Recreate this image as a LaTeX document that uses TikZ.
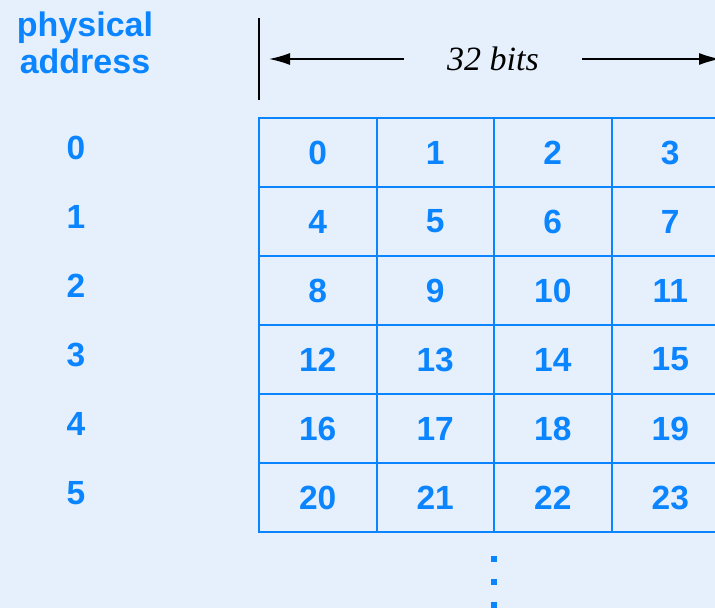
\documentclass[tikz,border=0pt]{standalone}
\usepackage{fontspec}
\setmainfont{Liberation Sans}
\newfontfamily\bitsfont{Liberation Serif}
\usetikzlibrary{arrows.meta, positioning}
\definecolor{paleblue}{RGB}{230, 240, 252}
\definecolor{wordblue}{RGB}{10, 132, 255}

\begin{document}
\begin{tikzpicture}[x=1pt, y=-1pt,
  wordcell/.style={draw=wordblue, line width=2pt, minimum width=117.5pt, minimum height=69pt,
    inner sep=0pt, text=wordblue, font=\fontsize{33.5}{36}\selectfont\bfseries},
  addrlabel/.style={text=wordblue, font=\fontsize{33.5}{36}\selectfont\bfseries},
  dimline/.style={line width=1.5pt, black}]
\fill[paleblue] (0,0) rectangle (715,608);
\useasboundingbox (0,0) rectangle (715,608);
\clip (0,0) rectangle (715,608);
% header
\node[addrlabel, align=center, font=\fontsize{34}{37}\selectfont\bfseries] (head) at (85,43) {physical\\address};
\coordinate (tickTop) at (259,18);
\coordinate (tickBot) at (259,100);
\draw[dimline] (tickTop) -- (tickBot);
\node[font=\bitsfont\itshape\fontsize{34}{36}\selectfont] (width) at (493,59) {32 bits};
\coordinate (arrL) at (269,59);
\coordinate (arrR) at (720,59);
\draw[dimline, -{Latex[length=21pt, width=12pt]}] ([xshift=-40pt]width.west) -- (arrL);
\draw[dimline, -{Latex[length=21pt, width=12pt]}] ([xshift=40pt]width.east) -- (arrR);
% memory words
\foreach \r in {0,...,5} {
  \node[addrlabel] (addr\r) at (76,{148+69*\r}) {\r};
  \foreach \c in {0,...,3} {
    \pgfmathtruncatemacro\byte{4*\r+\c}
    \node[wordcell] (w\r\c) at ({259+117.5*\c+58.75},{152.5+69*\r}) {\byte};
  }
}
% more rows
\foreach \y in {559,582,605}
  \fill[wordblue] (491,\y-3) rectangle +(6,6);
\end{tikzpicture}
\end{document}
